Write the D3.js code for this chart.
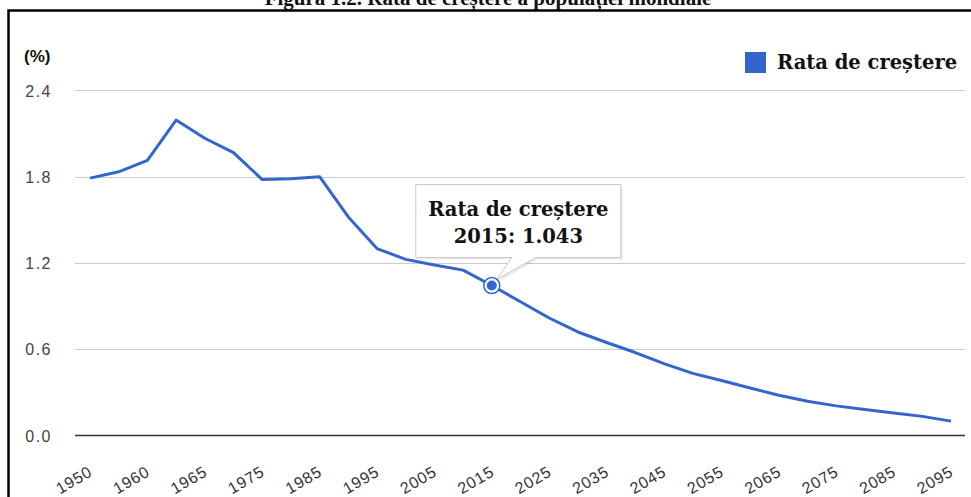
<!DOCTYPE html>
<html>
<head>
<meta charset="utf-8">
<script src="https://cdn.jsdelivr.net/npm/d3@7"></script>
<style>
  html, body { margin: 0; padding: 0; background: #fff; }
  svg { display: block; }
</style>
</head>
<body>
<svg id="chart" width="971" height="497"></svg>
<script>
// ---- data ----
const categories = ["1950","1955","1960","1963","1965","1970","1975","1980","1985","1990",
  "1995","2000","2005","2010","2015","2020","2025","2030","2035","2040",
  "2045","2050","2055","2060","2065","2070","2075","2080","2085","2090","2095"];
const rate = [1.79, 1.834, 1.914, 2.194, 2.067, 1.967, 1.78, 1.786, 1.80, 1.52,
  1.30, 1.225, 1.186, 1.15, 1.043, 0.93, 0.817, 0.72, 0.647, 0.577,
  0.50, 0.432, 0.382, 0.33, 0.28, 0.238, 0.206, 0.181, 0.157, 0.133, 0.10];
const yTicks = [0, 0.6, 1.2, 1.8, 2.4];
const xTickLabels = ["1950","1960","1965","1975","1985","1995","2005","2015","2025",
  "2035","2045","2055","2065","2075","2085","2095"];
const seriesName = "Rata de creștere";
const title = "Figura 1.2. Rata de creștere a populației mondiale";
const highlight = { cat: "2015", value: 1.043 };

// ---- drawing ----
const svg = d3.select("#chart");
const blue = "#3366cc";
const serif = "'DejaVu Serif', 'Liberation Serif', serif";
const sans = "'Liberation Sans', Arial, sans-serif";

const x = d3.scalePoint().domain(categories).range([90, 951]);
const y = d3.scaleLinear().domain([0, 2.4]).range([435.5, 90.4]);

// title (partly above the top edge, as in the source page)
svg.append("text")
  .attr("x", 488).attr("y", 5)
  .attr("text-anchor", "middle")
  .style("font-family", "'Liberation Serif', serif").style("font-weight", "bold").style("font-size", "21px")
  .attr("fill", "#111")
  .text(title);

// frame
svg.append("path")
  .attr("d", "M8.5,497 V10.5 H971")
  .attr("fill", "none").attr("stroke", "#000").attr("stroke-width", 2.5);

// gridlines
svg.append("g").selectAll("line")
  .data(yTicks.filter(d => d !== 0)).join("line")
  .attr("x1", 75).attr("x2", 965)
  .attr("y1", d => Math.round(y(d)) + 0.5).attr("y2", d => Math.round(y(d)) + 0.5)
  .attr("stroke", "#cccccc").attr("stroke-width", 1.2);

// y axis labels
const yAxis = d3.axisLeft(y).tickValues(yTicks).tickFormat(d3.format(".1f")).tickSize(0).tickPadding(0);
const gy = svg.append("g").attr("transform", "translate(52,0)").call(yAxis);
gy.select(".domain").remove();
gy.selectAll("text")
  .style("font-family", sans).style("font-size", "16px").attr("fill", "#444")
  .attr("letter-spacing", "1.5px").attr("dy", "0.35em");

// (%) label
svg.append("text").attr("x", 24).attr("y", 62)
  .style("font-family", sans).style("font-weight", "bold").style("font-size", "17px")
  .attr("fill", "#111").text("(%)");

// baseline
svg.append("line")
  .attr("x1", 75).attr("x2", 965)
  .attr("y1", y(0)).attr("y2", y(0))
  .attr("stroke", "#333").attr("stroke-width", 1.5);

// x axis labels
const xAxis = d3.axisBottom(x).tickValues(xTickLabels).tickSize(0).tickPadding(0);
const gx = svg.append("g").attr("transform", "translate(0,446)").call(xAxis);
gx.select(".domain").remove();
gx.selectAll("text")
  .style("font-family", sans).style("font-size", "16px").attr("fill", "#333")
  .attr("letter-spacing", "0.8px")
  .attr("text-anchor", "end").attr("x", 0).attr("y", 0).attr("dy", 0)
  .attr("transform", "translate(3,29) rotate(-30)");

// line
const line = d3.line().x((d, i) => x(categories[i])).y(d => y(d));
svg.append("path").datum(rate)
  .attr("d", line)
  .attr("fill", "none").attr("stroke", blue).attr("stroke-width", 3)
  .attr("stroke-linejoin", "round");

// legend
svg.append("rect").attr("x", 745).attr("y", 52).attr("width", 21).attr("height", 21)
  .attr("fill", blue);
svg.append("text").attr("x", 777).attr("y", 69)
  .style("font-family", serif).style("font-weight", "bold").style("font-size", "19.5px")
  .attr("fill", "#111").text(seriesName);

// tooltip
const mx = x(highlight.cat), my = y(highlight.value);
const bx0 = mx - 76, bx1 = mx + 129, by0 = my - 101, by1 = my - 28;
const tipPath = `M${bx0},${by0} H${bx1} V${by1} H${mx + 44} L${mx + 5},${my - 6} L${mx + 20},${by1} H${bx0} Z`;
svg.append("path").attr("d", tipPath)
  .attr("transform", "translate(2,2)")
  .attr("fill", "#000").attr("opacity", 0.08);
svg.append("path").attr("d", tipPath)
  .attr("fill", "#fff").attr("stroke", "#c8c8c8").attr("stroke-width", 1);
const tcx = (bx0 + bx1) / 2;
svg.append("text").attr("x", tcx).attr("y", by0 + 31).attr("text-anchor", "middle")
  .style("font-family", serif).style("font-weight", "bold").style("font-size", "19.5px")
  .attr("fill", "#111").text(seriesName);
svg.append("text").attr("x", tcx).attr("y", by0 + 58).attr("text-anchor", "middle")
  .style("font-family", serif).style("font-weight", "bold").style("font-size", "19.5px")
  .attr("fill", "#111").text(highlight.cat + ": " + d3.format(".3f")(highlight.value));

// marker
svg.append("circle").attr("cx", mx).attr("cy", my).attr("r", 8)
  .attr("fill", "#fff").attr("stroke", blue).attr("stroke-width", 1.5);
svg.append("circle").attr("cx", mx).attr("cy", my).attr("r", 5)
  .attr("fill", blue);
</script>
</body>
</html>
